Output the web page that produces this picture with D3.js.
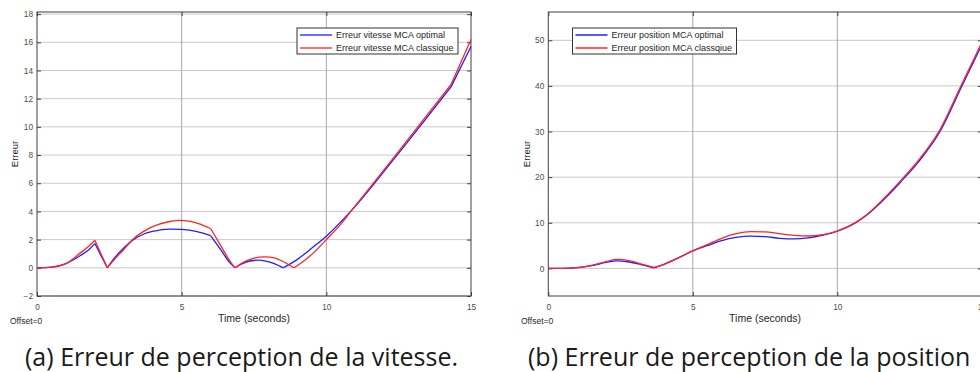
<!DOCTYPE html>
<html>
<head>
<meta charset="utf-8">
<script src="https://cdn.jsdelivr.net/npm/d3@7"></script>
<style>
  body { margin: 0; background: #fff; }
  svg { display: block; }
  .tick text { font-family: "Liberation Sans", Arial, sans-serif; font-size: 8.3px; fill: #4d4d4d; }
  .lbl { font-family: "Liberation Sans", Arial, sans-serif; fill: #262626; }
  .cap { font-family: "Open Sans", "Noto Sans", sans-serif; fill: #1a1a1a; }
</style>
</head>
<body>
<div id="chart"></div>
<script>
// --- data ---
// (a) erreur vitesse
var tVitOpt = [0, 0.5, 1.0, 1.5, 1.8, 2.0, 2.43, 2.7, 3.0, 3.33, 3.7, 4.0, 4.6, 5.0, 5.5, 6.0, 6.33, 6.67, 6.84, 7.1, 7.4, 7.65, 7.9, 8.2, 8.51, 9.0, 9.5, 10.0, 10.88, 12.32, 14.31, 15.0]
var vVitOpt = [0, 0.05, 0.3, 0.87, 1.3, 1.72, 0, 0.75, 1.4, 2.0, 2.4, 2.58, 2.75, 2.72, 2.58, 2.29, 1.35, 0.35, 0, 0.3, 0.5, 0.54, 0.48, 0.3, 0, 0.6, 1.4, 2.24, 4.09, 7.68, 12.84, 15.7]
var kVitOpt = [2.0, 2.43, 6.0, 6.84, 8.51, 14.31]

var tVitCla = [0, 0.5, 1.0, 1.5, 1.8, 2.0, 2.43, 2.7, 3.0, 3.33, 3.7, 4.0, 4.5, 4.9, 5.3, 5.7, 6.0, 6.33, 6.67, 6.84, 7.1, 7.5, 7.88, 8.2, 8.5, 8.88, 9.2, 9.6, 10.0, 10.5, 10.88, 12.32, 14.31, 15.0]
var vVitCla = [0, 0.05, 0.3, 1.06, 1.55, 1.96, 0, 0.65, 1.3, 2.05, 2.6, 2.92, 3.25, 3.36, 3.3, 3.05, 2.79, 1.65, 0.47, 0, 0.35, 0.68, 0.78, 0.7, 0.45, 0, 0.45, 1.15, 2.0, 3.1, 4.09, 7.8, 13.0, 16.2]
var kVitCla = [2.0, 2.43, 6.0, 6.84, 8.88, 14.31]

// (b) erreur position
var tPos = [0, 0.5, 1.0, 1.5, 2.0, 2.37, 2.8, 3.2, 3.66, 4.0, 4.5, 5.0, 5.5, 6.0, 6.5, 7.0, 7.5, 8.0, 8.5, 9.0, 9.5, 10.0, 10.67, 11.0, 11.59, 12.2, 12.86, 13.55, 14.3, 15.0]
var vPosOpt = [0, 0.02, 0.15, 0.6, 1.3, 1.67, 1.4, 0.85, 0.13, 0.9, 2.3, 3.86, 5.0, 6.1, 6.8, 7.08, 6.95, 6.6, 6.45, 6.7, 7.3, 8.18, 10.15, 11.6, 14.98, 19.0, 23.75, 29.96, 39.8, 49.0]
var vPosCla = [0, 0.02, 0.15, 0.65, 1.5, 1.97, 1.7, 1.0, 0.2, 0.85, 2.3, 3.86, 5.2, 6.6, 7.6, 8.05, 8.0, 7.6, 7.25, 7.1, 7.4, 8.18, 10.2, 11.7, 15.2, 19.3, 24.1, 30.4, 40.3, 49.5]
var kPos = [3.66]

var xTicks = [0, 5, 10, 15]
var yTicksVit = [-2, 0, 2, 4, 6, 8, 10, 12, 14, 16, 18]
var yTicksPos = [0, 10, 20, 30, 40, 50]

var legVit = ["Erreur vitesse MCA optimal", "Erreur vitesse MCA classique"]
var legPos = ["Erreur position MCA optimal", "Erreur position MCA classqiue"]
var captions = ["(a) Erreur de perception de la vitesse.", "(b) Erreur de perception de la position"]

var BLUE = "#1f1fff", RED = "#ff2424"

var svg = d3.select("#chart").append("svg")
  .attr("width", 980)
  .attr("height", 372)

// split a series at its corners, each piece drawn smooth
function pieces(ts, vs, kinks) {
  var out = [[]]
  ts.forEach(function(t, i) {
    var p = {t: t, v: vs[i]}
    out[out.length - 1].push(p)
    if (kinks.indexOf(t) >= 0 && i < ts.length - 1) out.push([p])
  })
  return out
}

function panel(o) {
  var x = d3.scaleLinear().domain([0, 15]).range([o.left, o.right])
  var y = d3.scaleLinear().domain(o.ydom).range([296, 12])
  var g = svg.append("g")

  // grid
  g.selectAll(".hg").data(o.yticks).enter().append("line")
    .attr("x1", o.left).attr("x2", o.right)
    .attr("y1", d => y(d)).attr("y2", d => y(d))
    .attr("stroke", "#c9c9c9").attr("stroke-width", 1)
  g.selectAll(".vg").data(xTicks.filter(d => d > 0 && d < 15)).enter().append("line")
    .attr("x1", d => x(d)).attr("x2", d => x(d))
    .attr("y1", 12).attr("y2", 296)
    .attr("stroke", "#a8a8a8").attr("stroke-width", 1)

  // axes (inward ticks)
  g.append("g").attr("transform", "translate(0,296)")
    .call(d3.axisBottom(x).tickValues(xTicks).tickSize(-4).tickPadding(8))
  g.append("g").attr("transform", "translate(" + o.left + ",0)")
    .call(d3.axisLeft(y).tickValues(o.yticks).tickSize(-4).tickPadding(4))
  g.append("g").attr("transform", "translate(" + o.right + ",0)")
    .call(d3.axisRight(y).tickValues(o.yticks).tickSize(-4).tickFormat(""))
  g.append("g").attr("transform", "translate(0,12)")
    .call(d3.axisTop(x).tickValues(xTicks).tickSize(-4).tickFormat(""))
  g.selectAll(".domain").remove()
  g.selectAll(".tick line").attr("stroke", "#404040")

  g.append("rect")
    .attr("x", o.left).attr("y", 12)
    .attr("width", o.right - o.left).attr("height", 284)
    .attr("fill", "none").attr("stroke", "#404040").attr("stroke-width", 1)

  // lines
  var line = d3.line().curve(d3.curveMonotoneX)
    .x(d => x(d.t)).y(d => y(d.v))
  o.series.forEach(function(s) {
    g.append("g").selectAll("path").data(pieces(s.t, s.v, s.k)).enter().append("path")
      .attr("d", line)
      .attr("fill", "none")
      .attr("stroke", s.color)
      .attr("stroke-width", 1.3)
  })

  // legend
  var lg = g.append("g").attr("transform", "translate(" + o.legX + ",28)")
  lg.append("rect").attr("width", o.legW).attr("height", 26)
    .attr("fill", "#fff").attr("stroke", "#333").attr("stroke-width", 1)
  o.series.forEach(function(s, i) {
    lg.append("line").attr("x1", 3).attr("x2", 35)
      .attr("y1", 7 + i * 13).attr("y2", 7 + i * 13)
      .attr("stroke", s.color).attr("stroke-width", 1.3)
    lg.append("text").attr("class", "lbl")
      .attr("x", 39).attr("y", 10 + i * 13)
      .style("font-size", "9px")
      .text(o.legend[i])
  })

  // labels
  g.append("text").attr("class", "lbl")
    .attr("transform", "translate(" + o.ylabX + ",154) rotate(-90)")
    .attr("text-anchor", "middle").style("font-size", "9.5px")
    .text("Erreur")
  g.append("text").attr("class", "lbl")
    .attr("x", (o.left + o.right) / 2).attr("y", 322)
    .attr("text-anchor", "middle").style("font-size", "10.5px")
    .text("Time (seconds)")
  g.append("text").attr("class", "lbl")
    .attr("x", o.offX).attr("y", 324)
    .style("font-size", "8.5px")
    .text("Offset=0")
  g.append("text").attr("class", "cap")
    .attr("x", o.capX).attr("y", 366)
    .style("font-size", "25px")
    .text(o.caption)
}

panel({
  left: 37, right: 471, ydom: [-2, 18.15], yticks: yTicksVit,
  series: [
    {t: tVitOpt, v: vVitOpt, k: kVitOpt, color: BLUE},
    {t: tVitCla, v: vVitCla, k: kVitCla, color: RED}
  ],
  legend: legVit, legX: 297, legW: 161,
  ylabX: 18, offX: 10, capX: 25, caption: captions[0]
})

panel({
  left: 548.3, right: 981.8, ydom: [-6.05, 56.2], yticks: yTicksPos,
  series: [
    {t: tPos, v: vPosOpt, k: kPos, color: BLUE},
    {t: tPos, v: vPosCla, k: kPos, color: RED}
  ],
  legend: legPos, legX: 572.5, legW: 164,
  ylabX: 530, offX: 521, capX: 528, caption: captions[1]
})
</script>
</body>
</html>
